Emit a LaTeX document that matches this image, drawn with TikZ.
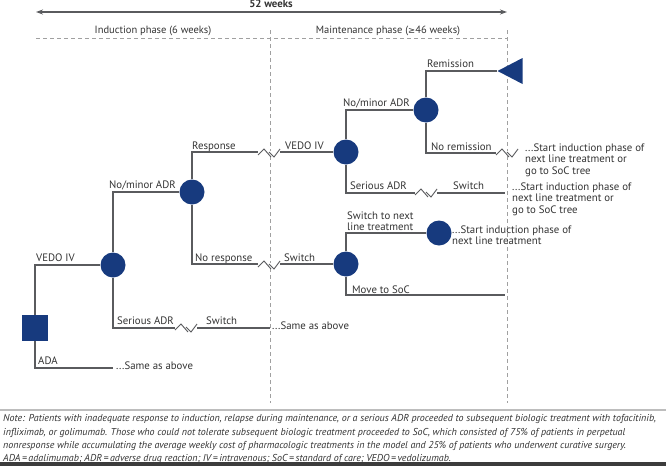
\documentclass[tikz,border=0pt]{standalone}
\usepackage{fontspec}
\setmainfont{PT Sans}
\newfontfamily\symfont{DejaVu Sans}
\usetikzlibrary{arrows.meta,shapes.geometric}
\definecolor{navy}{HTML}{173A7E}
\definecolor{lineclr}{HTML}{5A5B5E}
\definecolor{dashclr}{HTML}{A0A0A0}
\definecolor{txtclr}{HTML}{333333}
\definecolor{barclr}{HTML}{3C3C3C}
\begin{document}
\begin{tikzpicture}[x=1pt, y=-1pt,
    chance/.style={circle, fill=navy, inner sep=0pt, minimum size=25pt},
    decision/.style={rectangle, fill=navy, inner sep=0pt, minimum size=26pt},
    tline/.style={draw=lineclr, line width=1.3pt},
    phase/.style={draw=dashclr, line width=0.9pt, dash pattern=on 4pt off 3pt},
    lbl/.style={anchor=base west, inner sep=0pt, text=txtclr, font=\fontsize{10.8}{12}\selectfont},
    blk/.style={anchor=north west, inner sep=0pt, align=left, text=txtclr, font=\fontsize{10.8}{11.4}\selectfont},
    brk/.pic={\fill[white] (-11,-1.6) rectangle (11,1.6);
              \draw[lineclr, line width=0.9pt] (-11,2) -- (-5,-4) -- (2,4) (0,-1) -- (5,4) -- (11,-4);}]
    \useasboundingbox (0,0) rectangle (666,466);

    % time line and phases
    \coordinate (tl) at (36,12);
    \coordinate (tr) at (507,12);
    \draw[lineclr, line width=1.8pt, {Stealth[length=7pt,width=5pt]}-{Stealth[length=7pt,width=5pt]}] (tl) -- (tr);
    \node [text=txtclr, font=\fontsize{10.8}{12}\bfseries] (wk) at (271,4) {52 weeks};
    \node [text=txtclr, font=\fontsize{10.5}{12}\selectfont] (ind) at (153,31) {Induction phase (6 weeks)};
    \node [text=txtclr, font=\fontsize{10.5}{12}\selectfont] (mnt) at (388,31) {Maintenance phase ({\symfont\fontsize{8.5}{10}\selectfont ≥}46 weeks)};
    \draw[phase] (36,38) -- (507,38);
    \draw[phase] (270,30) -- (270,403);
    \draw[phase] (507,30) -- (507,403);

    % decision and chance nodes
    \node [decision] (start) at (35,328) {};
    \node [chance] (c1) at (113,265) {};
    \node [chance] (c2) at (192,192) {};
    \node [chance] (c3) at (346,152) {};
    \node [chance] (c4) at (346,264) {};
    \node [chance] (c5) at (426,110) {};
    \node [chance] (c6) at (439,233) {};
    \node [isosceles triangle, shape border rotate=180, isosceles triangle stretches, fill=navy, inner sep=0pt,
           minimum height=25pt, minimum width=26pt, anchor=apex] (rem) at (497,71) {};

    \coordinate (ada) at (113,368);
    \coordinate (sa1) at (270,328);
    \coordinate (sa2) at (505,193);
    \coordinate (nrm) at (507,153);
    \coordinate (soc) at (505,295);

    % branches
    \draw[tline] (start) |- (c1);
    \draw[tline] (start) |- (ada);
    \draw[tline] (c1) |- (c2);
    \draw[tline] (c1) |- (sa1);
    \draw[tline] (c2) |- (c3);
    \draw[tline] (c2) |- (c4);
    \draw[tline] (c3) |- (c5);
    \draw[tline] (c3) |- (sa2);
    \draw[tline] (c5) |- (rem);
    \draw[tline] (c5) |- (nrm);
    \draw[tline] (c4) |- (c6);
    \draw[tline] (c4) |- (soc);

    \pic at (186,328) {brk};
    \pic at (269,153) {brk};
    \pic at (269,265) {brk};
    \pic at (426,193) {brk};
    \pic at (507,153) {brk};

    % labels
    \node [lbl] (l1) at (36,261.5) {VEDO IV};
    \node [lbl] (l2) at (38,364.5) {ADA};
    \node [lbl, anchor=west] (l3) at (116,366) {...Same as above};
    \node [lbl] (l4) at (109,188.5) {No/minor ADR};
    \node [lbl] (l5) at (117,324.5) {Serious ADR};
    \node [lbl] (l6) at (206,324.5) {Switch};
    \node [lbl, anchor=west] (l7) at (272,326) {...Same as above};
    \node [lbl] (l8) at (192,149.5) {Response};
    \node [lbl] (l9) at (285,149.5) {VEDO IV};
    \node [lbl] (l10) at (195,261.5) {No response};
    \node [lbl] (l11) at (284,261.5) {Switch};
    \node [lbl] (l12) at (343,106.5) {No/minor ADR};
    \node [lbl] (l13) at (427,67) {Remission};
    \node [lbl] (l14) at (431,150) {No remission};
    \node [blk] (l15) at (525,143.5) {...Start induction phase of\\next line treatment or\\go to SoC tree};
    \node [lbl] (l16) at (350,189.5) {Serious ADR};
    \node [lbl] (l17) at (453,189.5) {Switch};
    \node [blk] (l18) at (512,182.5) {...Start induction phase of\\next line treatment or\\go to SoC tree};
    \node [blk] (l19) at (347,211.5) {Switch to next\\line treatment};
    \node [blk] (l20) at (452,225.5) {...Start induction phase of\\next line treatment};
    \node [lbl] (l21) at (352,293.5) {Move to SoC};

    % note
    \draw[draw=dashclr!70, line width=1.4pt] (0,410) -- (666,410);
    \node [anchor=north west, inner sep=0pt, align=left, text=txtclr, font=\fontsize{10}{13.3}\selectfont\itshape] (note) at (3,414.5) {%
      Note: Patients with inadequate response to induction, relapse during maintenance, or a serious ADR proceeded to subsequent biologic treatment with tofacitinib,\\
      infliximab, or golimumab. Those who could not tolerate subsequent biologic treatment proceeded to SoC, which consisted of 75\% of patients in perpetual\\
      nonresponse while accumulating the average weekly cost of pharmacologic treatments in the model and 25\% of patients who underwent curative surgery.\\
      ADA\,=\,adalimumab; ADR\,=\,adverse drug reaction; IV\,=\,intravenous; SoC\,=\,standard of care; VEDO\,=\,vedolizumab.};
    \fill[barclr] (0,462) rectangle (666,466);
\end{tikzpicture}
\end{document}
